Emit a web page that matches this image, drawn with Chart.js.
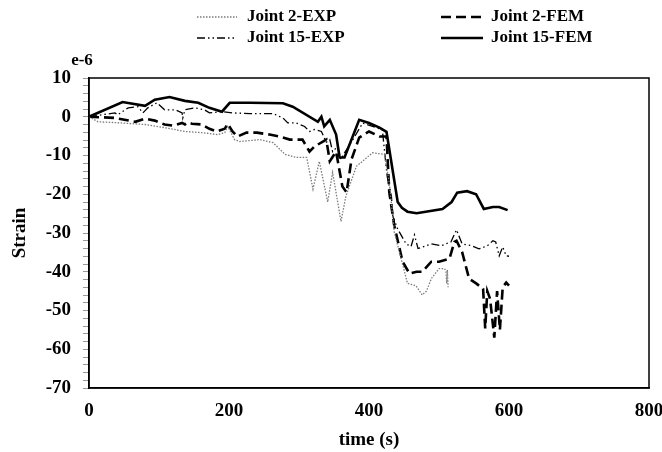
<!DOCTYPE html>
<html>
<head>
<meta charset="utf-8">
<script src="https://cdn.jsdelivr.net/npm/chart.js@4.4.1/dist/chart.umd.min.js"></script>
<style>
  html, body { margin: 0; padding: 0; background: #fff; }
  #wrap { width: 662px; height: 452px; }
</style>
</head>
<body>
<div id="wrap"><canvas id="strainChart" width="662" height="452"></canvas></div>
<script>
// time (s) and strain (e-6)
const j2expT = [0, 13, 37, 80, 108, 137, 161, 184, 194, 198, 208, 215, 244, 263, 280, 296, 311, 320, 329, 341, 348, 360, 367, 382, 405, 422, 429, 436, 446, 455, 467, 476, 482, 489, 500, 508, 510, 511, 512, 513];
const j2expV = [0, -1.3, -1.5, -2, -2.8, -3.8, -4.1, -4.6, -4.1, -2.5, -5.9, -6.4, -5.9, -6.7, -9.7, -10.5, -10.5, -18.7, -11.5, -22, -14.4, -27, -20.5, -12.8, -9.3, -9.7, -17, -29.7, -36.7, -43, -43.6, -46, -45, -41.8, -39.2, -39.2, -40, -43, -39.5, -44];

const j2femT = [0, 37, 66, 80, 94, 108, 120, 133, 137, 141, 147, 161, 172, 182, 194, 198, 205, 212, 225, 240, 258, 272, 287, 305, 315, 322, 339, 344, 353, 362, 368, 375, 386, 400, 415, 425, 429, 436, 448, 458, 468, 476, 489, 500, 515, 522, 525, 533, 543, 553, 563, 566, 569, 573, 576, 579, 583, 587, 591, 596, 600];
const j2femV = [0, -0.3, -1.3, -0.5, -1, -2, -2.3, -1.6, -2, -1.5, -1.8, -2, -3.1, -3.8, -3.1, -1.8, -3.8, -5.1, -4.1, -4.1, -4.6, -5.1, -5.9, -5.9, -9, -7.7, -5.9, -11.5, -9, -18, -19.5, -11, -5.4, -3.8, -5.1, -5.1, -19.5, -28, -37.4, -40.5, -40, -40, -37.4, -37.4, -36.6, -32.3, -32, -34.9, -41.8, -43, -44.4, -54.6, -45, -47, -52, -57, -45, -55, -44, -42.8, -43.6];

const j15expT = [0, 37, 41, 56, 70, 77, 84, 97, 108, 123, 133, 134, 137, 151, 165, 172, 190, 205, 230, 263, 277, 284, 296, 308, 315, 322, 332, 339, 344, 348, 355, 360, 365, 377, 391, 405, 419, 426, 432, 434, 441, 453, 460, 465, 470, 489, 503, 517, 525, 533, 547, 557, 569, 577, 581, 586, 591, 596, 600];
const j15expV = [0, 1, 0.5, 2.3, 2.6, 1, 2.3, 3.6, 1.8, 1.8, 1, -0.3, 1.8, 2.3, 1.8, 1, 1.3, 1, 0.8, 0.8, -0.3, -1.6, -1.6, -2.5, -3.8, -3.3, -3.8, -6.6, -5.9, -9, -7.7, -11, -9.3, -5.9, -1.6, -2.5, -3.3, -15.4, -20.5, -25.6, -29, -32.8, -33.5, -30.5, -34, -32.8, -33.3, -32.3, -29.2, -32.8, -33.3, -34.1, -33.3, -32, -32.3, -35.9, -33.6, -35.9, -36];

const j15femT = [0, 48, 80, 94, 115, 137, 156, 172, 190, 201, 230, 277, 291, 327, 332, 336, 344, 353, 358, 365, 386, 400, 415, 425, 441, 447, 455, 468, 505, 518, 526, 540, 553, 564, 577, 586, 598];
const j15femV = [0, 3.8, 2.8, 4.4, 5.1, 4.1, 3.6, 2.3, 1.3, 3.6, 3.6, 3.5, 2.6, -1.3, 0, -2.5, -0.8, -4.6, -10.5, -10.5, -0.8, -1.6, -2.8, -3.9, -22, -23.5, -24.5, -24.9, -23.8, -22, -19.6, -19.2, -20, -23.8, -23.3, -23.3, -24.1];

const xTicks = [0, 200, 400, 600, 800];
const yMajor = [-70, -60, -50, -40, -30, -20, -10, 0, 10];

function pts(t, v) {
    return t.map((x, i) => ({ x: x, y: v[i] }));
}

const serif = "'Liberation Serif', 'Times New Roman', serif";

const series = [
    { label: 'Joint 2-EXP', data: pts(j2expT, j2expV), borderColor: '#7a7a7a', borderWidth: 1.3, borderDash: [1.5, 1.5] },
    { label: 'Joint 2-FEM', data: pts(j2femT, j2femV), borderColor: '#000', borderWidth: 2.6, borderDash: [10, 5] },
    { label: 'Joint 15-EXP', data: pts(j15expT, j15expV), borderColor: '#000', borderWidth: 1.3, borderDash: [8, 3, 1.5, 3, 1.5, 3] },
    { label: 'Joint 15-FEM', data: pts(j15femT, j15femV), borderColor: '#000', borderWidth: 2.6, borderDash: [] }
];

// legend in two columns plus the frame and the e-6 note
const decor = {
    id: 'decor',
    afterDraw(chart) {
        const c = chart.ctx;
        const a = chart.chartArea;
        c.save();
        c.strokeStyle = '#000';
        c.lineWidth = 1.5;
        c.setLineDash([]);
        c.strokeRect(a.left, a.top, a.right - a.left, a.bottom - a.top);

        const cols = [[197, 237, 247], [441, 483, 491]];
        const rows = [17, 38];
        c.font = 'bold 17px ' + serif;
        c.textBaseline = 'middle';
        c.textAlign = 'left';
        c.fillStyle = '#000';
        series.forEach((s, i) => {
            const col = cols[i % 2];
            const y = rows[Math.floor(i / 2)];
            c.strokeStyle = s.borderColor;
            c.lineWidth = s.borderWidth;
            c.setLineDash(s.borderDash);
            c.beginPath();
            c.moveTo(col[0], y);
            c.lineTo(col[1], y);
            c.stroke();
            c.fillText(s.label, col[2], y);
        });

        c.textAlign = 'center';
        c.fillText('e-6', 82, 61);
        c.restore();
    }
};

const ctx = document.getElementById('strainChart').getContext('2d');
const strainChart = new Chart(ctx, {
    type: 'line',
    data: {
        datasets: series.map(s => ({
            label: s.label,
            data: s.data,
            borderColor: s.borderColor,
            borderWidth: s.borderWidth,
            borderDash: s.borderDash,
            pointRadius: 0,
            fill: false,
            tension: 0
        }))
    },
    options: {
        responsive: false,
        animation: false,
        layout: { padding: { top: 78, right: 13, left: 0, bottom: 0 } },
        plugins: {
            legend: { display: false },
            tooltip: { enabled: false }
        },
        scales: {
            x: {
                type: 'linear',
                min: 0,
                max: 800,
                afterFit: s => {
                    s.height = 64;
                    s.paddingLeft = 0;
                    s.paddingRight = 0;
                },
                afterBuildTicks: s => { s.ticks = xTicks.map(v => ({ value: v })); },
                grid: { display: false, drawTicks: false },
                border: { display: true, color: '#000', width: 1.5 },
                ticks: {
                    padding: 12,
                    color: '#000',
                    font: { family: serif, size: 19, weight: 'bold' }
                },
                title: {
                    display: true,
                    text: 'time (s)',
                    color: '#000',
                    padding: { top: 0, bottom: 1 },
                    font: { family: serif, size: 19, weight: 'bold' }
                }
            },
            y: {
                min: -70,
                max: 10,
                afterFit: s => {
                    s.width = 89;
                    s.paddingTop = 0;
                    s.paddingBottom = 0;
                },
                afterBuildTicks: s => {
                    const t = [];
                    for (let v = -70; v <= 10; v += 2) t.push({ value: v });
                    s.ticks = t;
                },
                grid: { drawOnChartArea: false, drawTicks: true, tickLength: 6, color: '#999', tickColor: '#999' },
                border: { display: true, color: '#000', width: 1.5 },
                ticks: {
                    autoSkip: false,
                    padding: 12,
                    color: '#000',
                    font: { family: serif, size: 19, weight: 'bold' },
                    callback: v => yMajor.includes(v) ? String(v) : ''
                },
                title: {
                    display: true,
                    text: 'Strain',
                    color: '#000',
                    padding: { top: 9, bottom: 0 },
                    font: { family: serif, size: 19, weight: 'bold' }
                }
            }
        }
    },
    plugins: [decor]
});
</script>
</body>
</html>
